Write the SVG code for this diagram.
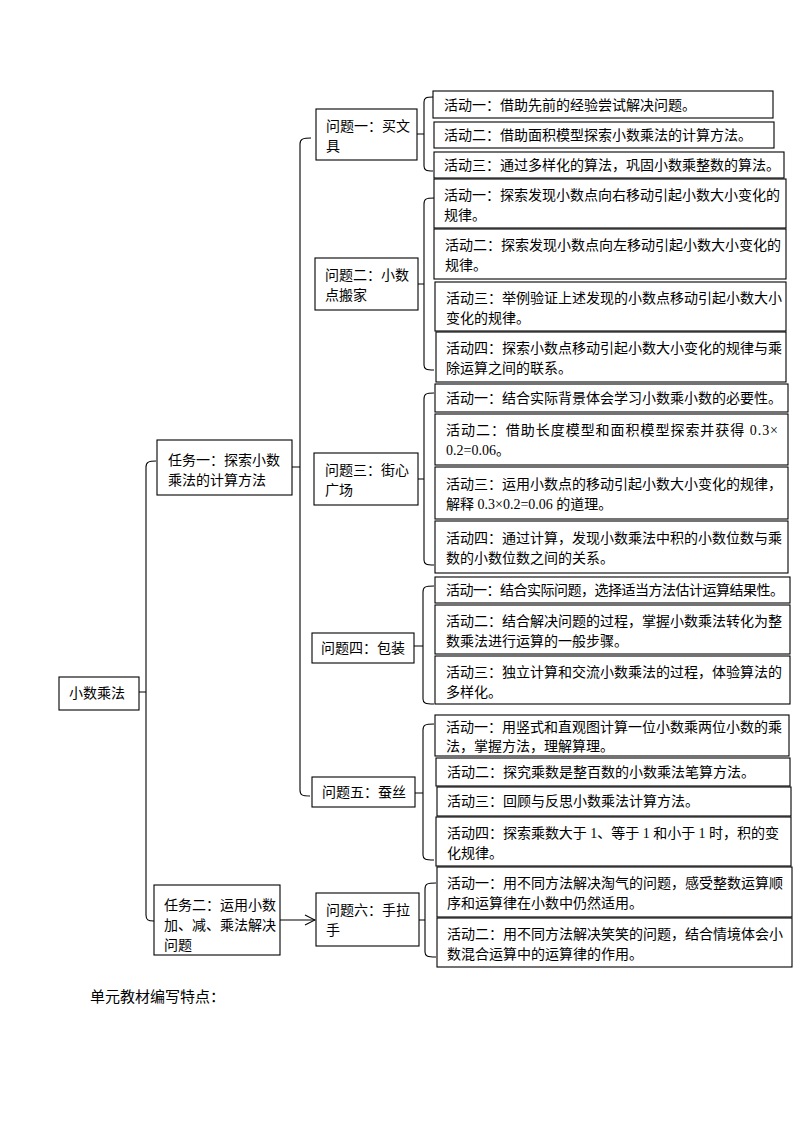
<svg xmlns="http://www.w3.org/2000/svg" width="794" height="1123" viewBox="0 0 794 1123">
<style>
.box{fill:#fff;stroke:#000;stroke-width:1.1}
.t{font-family:"Liberation Serif","Noto Sans CJK SC",serif;font-size:14px;fill:#000}
.c{fill:none;stroke:#000;stroke-width:1.1}
</style>
<defs>
<marker id="arr" viewBox="0 0 12 12" refX="11" refY="6" markerWidth="12" markerHeight="12" markerUnits="userSpaceOnUse" orient="auto">
<path d="M1,1 L11,6 L1,11" fill="none" stroke="#000" stroke-width="1.1"/>
</marker>
</defs>
<rect width="794" height="1123" fill="#fff"/>

<g id="connectors">
<path class="c" d="M156,461 C149,461 146,462 146,467 V915 C146,920 148,921 154,921 M146,692 H139"/>
<path class="c" d="M311,138 C303,138 300,139 300,144 V790 C300,795 302,796 310,796 M300,467 H292"/>
<path class="c" d="M433,97 C426,97 424,98 424,102 V166 C424,170 426,171 433,171 M424,134 H417"/>
<path class="c" d="M434,198 C426,198 424,199 424,204 V365 C424,369 426,370 434,370 M424,284 H418"/>
<path class="c" d="M434,393 C426,393 424,394 424,399 V560 C424,564 426,565 434,565 M424,479 H418"/>
<path class="c" d="M434,586 C425,586 423,587 423,592 V699 C423,703 425,704 434,704 M423,646 H414"/>
<path class="c" d="M434,724 C425,724 423,725 423,730 V855 C423,859 425,860 434,860 M423,793 H415"/>
<path class="c" d="M436,883 C427,883 425,884 425,889 V952 C425,956 427,957 436,957 M425,920 H419"/>
<line class="c" x1="280" y1="920" x2="315" y2="920" marker-end="url(#arr)"/>
</g>

<g id="root">
<rect class="box" x="59" y="677" width="80" height="33"/>
<text class="t" x="69" y="698">小数乘法</text>
</g>

<g id="task1">
<rect class="box" x="157" y="440" width="135" height="55"/>
<text class="t" x="168" y="465">任务一：探索小数</text>
<text class="t" x="168" y="485">乘法的计算方法</text>
</g>

<g id="task2">
<rect class="box" x="154" y="885" width="126" height="70"/>
<text class="t" x="164" y="910">任务二：运用小数</text>
<text class="t" x="164" y="930">加、减、乘法解决</text>
<text class="t" x="164" y="950">问题</text>
</g>

<g id="q1">
<rect class="box" x="316" y="109" width="101" height="51"/>
<text class="t" x="326" y="131">问题一：买文</text>
<text class="t" x="326" y="151">具</text>
</g>
<g id="q1a1">
<rect class="box" x="433" y="91" width="340" height="27"/>
<text class="t" x="444" y="110">活动一：借助先前的经验尝试解决问题。</text>
</g>
<g id="q1a2">
<rect class="box" x="434" y="122" width="340" height="26"/>
<text class="t" x="444" y="140">活动二：借助面积模型探索小数乘法的计算方法。</text>
</g>
<g id="q1a3">
<rect class="box" x="434" y="152" width="350" height="26"/>
<text class="t" x="444" y="170">活动三：通过多样化的算法，巩固小数乘整数的算法。</text>
</g>

<g id="q2">
<rect class="box" x="315" y="258" width="103" height="52"/>
<text class="t" x="325" y="280">问题二：小数</text>
<text class="t" x="325" y="300">点搬家</text>
</g>
<g id="q2a1">
<rect class="box" x="434" y="179" width="352" height="49"/>
<text class="t" x="444" y="200">活动一：探索发现小数点向右移动引起小数大小变化的</text>
<text class="t" x="444" y="220">规律。</text>
</g>
<g id="q2a2">
<rect class="box" x="434" y="229" width="352" height="50"/>
<text class="t" x="445" y="250">活动二：探索发现小数点向左移动引起小数大小变化的</text>
<text class="t" x="445" y="270">规律。</text>
</g>
<g id="q2a3">
<rect class="box" x="435" y="282" width="351" height="49"/>
<text class="t" x="446" y="303">活动三：举例验证上述发现的小数点移动引起小数大小</text>
<text class="t" x="446" y="323">变化的规律。</text>
</g>
<g id="q2a4">
<rect class="box" x="436" y="332" width="350" height="50"/>
<text class="t" x="446" y="353">活动四：探索小数点移动引起小数大小变化的规律与乘</text>
<text class="t" x="446" y="373">除运算之间的联系。</text>
</g>

<g id="q3">
<rect class="box" x="314" y="453" width="104" height="52"/>
<text class="t" x="325" y="475">问题三：街心</text>
<text class="t" x="325" y="495">广场</text>
</g>
<g id="q3a1">
<rect class="box" x="435" y="384" width="353" height="28"/>
<text class="t" x="446" y="403">活动一：结合实际背景体会学习小数乘小数的必要性。</text>
</g>
<g id="q3a2">
<rect class="box" x="435" y="414" width="353" height="51"/>
<text class="t" x="446" y="435" textLength="332" lengthAdjust="spacing">活动二：借助长度模型和面积模型探索并获得 0.3×</text>
<text class="t" x="446" y="455">0.2=0.06。</text>
</g>
<g id="q3a3">
<rect class="box" x="435" y="467" width="353" height="52"/>
<text class="t" x="446" y="489">活动三：运用小数点的移动引起小数大小变化的规律，</text>
<text class="t" x="446" y="509">解释 0.3×0.2=0.06 的道理。</text>
</g>
<g id="q3a4">
<rect class="box" x="435" y="521" width="353" height="52"/>
<text class="t" x="446" y="543">活动四：通过计算，发现小数乘法中积的小数位数与乘</text>
<text class="t" x="446" y="563">数的小数位数之间的关系。</text>
</g>

<g id="q4">
<rect class="box" x="312" y="633" width="102" height="30"/>
<text class="t" x="321" y="653">问题四：包装</text>
</g>
<g id="q4a1">
<rect class="box" x="435" y="577" width="355" height="26"/>
<text class="t" x="446" y="595" textLength="338" lengthAdjust="spacing">活动一：结合实际问题，选择适当方法估计运算结果性。</text>
</g>
<g id="q4a2">
<rect class="box" x="435" y="605" width="355" height="49"/>
<text class="t" x="446" y="626">活动二：结合解决问题的过程，掌握小数乘法转化为整</text>
<text class="t" x="446" y="646">数乘法进行运算的一般步骤。</text>
</g>
<g id="q4a3">
<rect class="box" x="435" y="656" width="355" height="48"/>
<text class="t" x="446" y="677">活动三：独立计算和交流小数乘法的过程，体验算法的</text>
<text class="t" x="446" y="697">多样化。</text>
</g>

<g id="q5">
<rect class="box" x="312" y="777" width="103" height="30"/>
<text class="t" x="322" y="797">问题五：蚕丝</text>
</g>
<g id="q5a1">
<rect class="box" x="435" y="715" width="354" height="41"/>
<text class="t" x="446" y="732">活动一：用竖式和直观图计算一位小数乘两位小数的乘</text>
<text class="t" x="446" y="751">法，掌握方法，理解算理。</text>
</g>
<g id="q5a2">
<rect class="box" x="436" y="758" width="354" height="28"/>
<text class="t" x="447" y="777">活动二：探究乘数是整百数的小数乘法笔算方法。</text>
</g>
<g id="q5a3">
<rect class="box" x="437" y="787" width="354" height="29"/>
<text class="t" x="447" y="806">活动三：回顾与反思小数乘法计算方法。</text>
</g>
<g id="q5a4">
<rect class="box" x="436" y="817" width="355" height="49"/>
<text class="t" x="447" y="838" textLength="332" lengthAdjust="spacing">活动四：探索乘数大于 1、等于 1 和小于 1 时，积的变</text>
<text class="t" x="447" y="858">化规律。</text>
</g>

<g id="q6">
<rect class="box" x="316" y="893" width="103" height="53"/>
<text class="t" x="326" y="915">问题六：手拉</text>
<text class="t" x="326" y="935">手</text>
</g>
<g id="q6a1">
<rect class="box" x="437" y="867" width="355" height="50"/>
<text class="t" x="447" y="888">活动一：用不同方法解决淘气的问题，感受整数运算顺</text>
<text class="t" x="447" y="908">序和运算律在小数中仍然适用。</text>
</g>
<g id="q6a2">
<rect class="box" x="437" y="918" width="355" height="49"/>
<text class="t" x="447" y="939">活动二：用不同方法解决笑笑的问题，结合情境体会小</text>
<text class="t" x="447" y="959">数混合运算中的运算律的作用。</text>
</g>

<text class="t" x="90" y="1002" style="font-size:15px">单元教材编写特点：</text>
</svg>
